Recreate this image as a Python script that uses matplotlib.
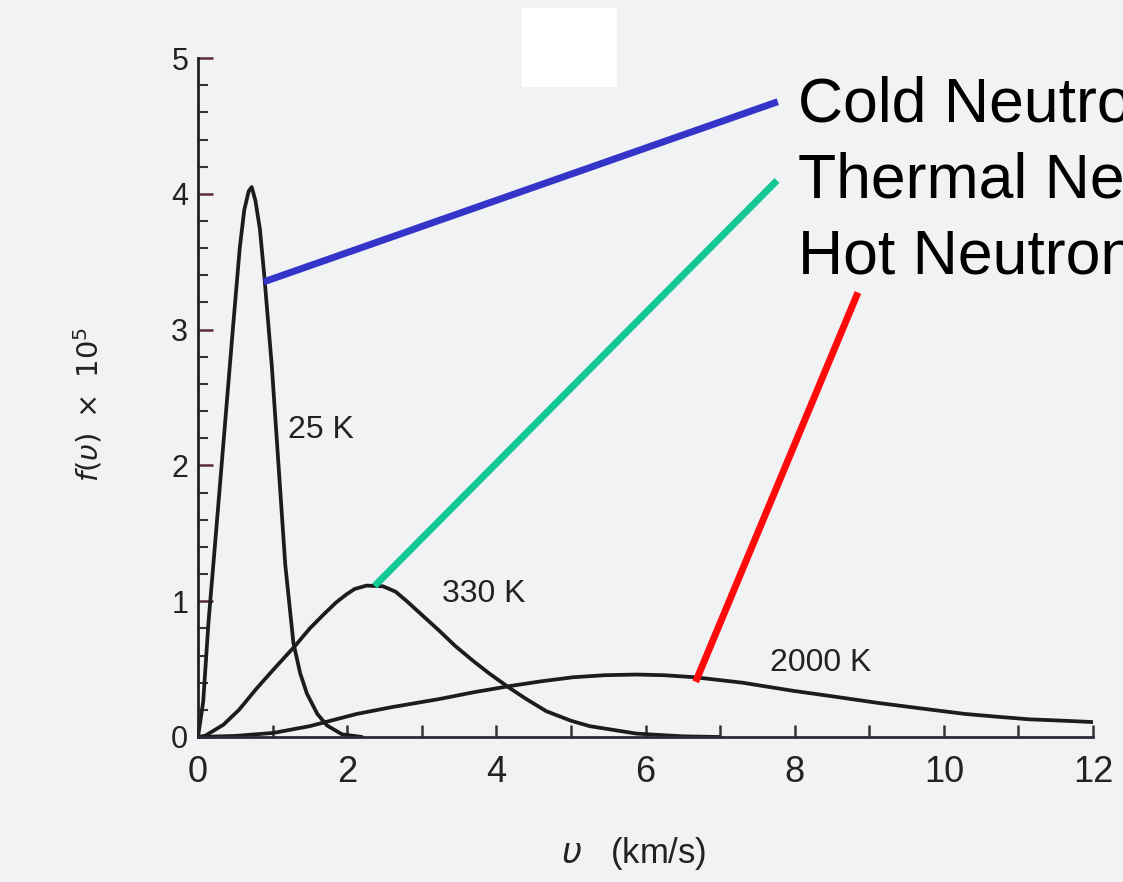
import matplotlib
matplotlib.use('Agg')
import matplotlib.pyplot as plt
from matplotlib.patches import Rectangle

plt.rcParams['font.family'] = ['Liberation Sans', 'DejaVu Sans']

# values, f(v) x 1e5 against v in km/s
v_25 = [0, 0.07, 0.14, 0.25, 0.36, 0.47, 0.56, 0.62, 0.68, 0.72, 0.77, 0.83, 0.89, 0.99,
        1.08, 1.17, 1.28, 1.37, 1.46, 1.60, 1.73, 1.93, 2.2]
f_25 = [0, 0.26, 0.84, 1.56, 2.29, 3.02, 3.60, 3.88, 4.02, 4.05, 3.95, 3.74, 3.39, 2.73,
        2.00, 1.27, 0.69, 0.47, 0.32, 0.17, 0.085, 0.02, 0]

v_330 = [0, 0.1, 0.34, 0.55, 0.79, 1.05, 1.30, 1.50, 1.68, 1.85, 1.99, 2.10, 2.26, 2.48, 2.65,
         2.80, 3.0, 3.24, 3.45, 3.69, 3.9, 4.18, 4.4, 4.67, 5.0, 5.25, 5.88, 6.5, 7.0]
f_330 = [0, 0.01, 0.09, 0.20, 0.36, 0.52, 0.67, 0.80, 0.90, 0.99, 1.05, 1.09, 1.115, 1.11, 1.07,
         1.0, 0.90, 0.78, 0.67, 0.56, 0.47, 0.36, 0.28, 0.19, 0.12, 0.08, 0.025, 0.005, 0]

v_2000 = [0, 0.5, 1.01, 1.5, 2.13, 2.6, 3.24, 3.7, 4.18, 4.6, 5.03, 5.45, 5.88, 6.25,
          6.66, 7.3, 7.98, 8.5, 9.13, 9.7, 10.28, 10.7, 11.15, 11.6, 12.0]
f_2000 = [0, 0.008, 0.03, 0.08, 0.17, 0.22, 0.28, 0.33, 0.375, 0.41, 0.44, 0.455, 0.46, 0.455,
          0.44, 0.40, 0.34, 0.30, 0.25, 0.21, 0.17, 0.15, 0.13, 0.12, 0.11]

curve_labels = ['25 K', '330 K', '2000 K']
neutron_labels = ['Cold Neutrons', 'Thermal Neutrons', 'Hot Neutrons']
neutron_colors = ['#3434c8', '#14c896', '#ff0a0a']

fig = plt.figure(figsize=(11.23, 8.82), dpi=100, facecolor='#f1f2f4')
ax = fig.add_axes([0.1763, 0.1644, 0.7970, 0.7698])
ax.set_facecolor('none')

for v, f in [(v_25, f_25), (v_330, f_330), (v_2000, f_2000)]:
    ax.plot(v, f, color='#1c1c1c', lw=2.7, solid_capstyle='round', solid_joinstyle='round')

ax.set_xlim(0, 12)
ax.set_ylim(0, 5)
ax.spines['top'].set_visible(False)
ax.spines['right'].set_visible(False)
ax.spines['left'].set_linewidth(2)
ax.spines['bottom'].set_linewidth(2)
ax.spines['left'].set_color('#222222')
ax.spines['bottom'].set_color('#2a2a3a')

ax.set_xticks(range(0, 13, 2))
ax.set_xticks(range(1, 12, 2), minor=True)
ax.set_yticks(range(0, 6))
ax.set_yticks([i * 0.2 for i in range(26)], minor=True)
ax.tick_params(axis='x', which='both', direction='in', length=9, width=1.8,
               colors='#333333', labelcolor='#222222', labelsize=26, pad=13)
ax.tick_params(axis='y', which='major', direction='in', length=11, width=1.8,
               colors='#5a2a35', labelcolor='#222222', labelsize=22, pad=7)
ax.tick_params(axis='y', which='minor', direction='in', length=7, width=1.5, colors='#333333')

ax.set_ylabel(r'$f(\upsilon)\ \times\ 10^5$', fontsize=21, color='#222222')
ax.yaxis.set_label_coords(-0.105, 0.49)
ax.set_xlabel(r'$\upsilon$   (km/s)', fontsize=25, color='#222222')
ax.xaxis.set_label_coords(0.487, -0.145)

# curve temperature labels
ax.text(1.21, 2.26, curve_labels[0], fontsize=23, va='center', color='#222222')
ax.text(3.27, 1.05, curve_labels[1], fontsize=23, va='center', color='#222222')
ax.text(7.67, 0.545, curve_labels[2], fontsize=23, va='center', color='#222222')

# coloured pointer lines and labels
ax.plot([0.925, 7.73], [3.36, 4.67], color=neutron_colors[0], lw=5, clip_on=False)
ax.plot([2.40, 7.73], [1.13, 4.08], color=neutron_colors[1], lw=5, clip_on=False)
ax.plot([6.69, 8.83], [0.43, 3.25], color=neutron_colors[2], lw=5, clip_on=False)
for i, name in enumerate(neutron_labels):
    fig.text(0.711, 1 - (122 + 75.5 * i) / 882, name, fontsize=45, color='black',
             va='baseline', ha='left')

fig.patches.append(Rectangle((0.4648, 0.9014), 0.0846, 0.0896, transform=fig.transFigure,
                             facecolor='white', edgecolor='none'))

fig.savefig('out.png', dpi=100, facecolor=fig.get_facecolor())
